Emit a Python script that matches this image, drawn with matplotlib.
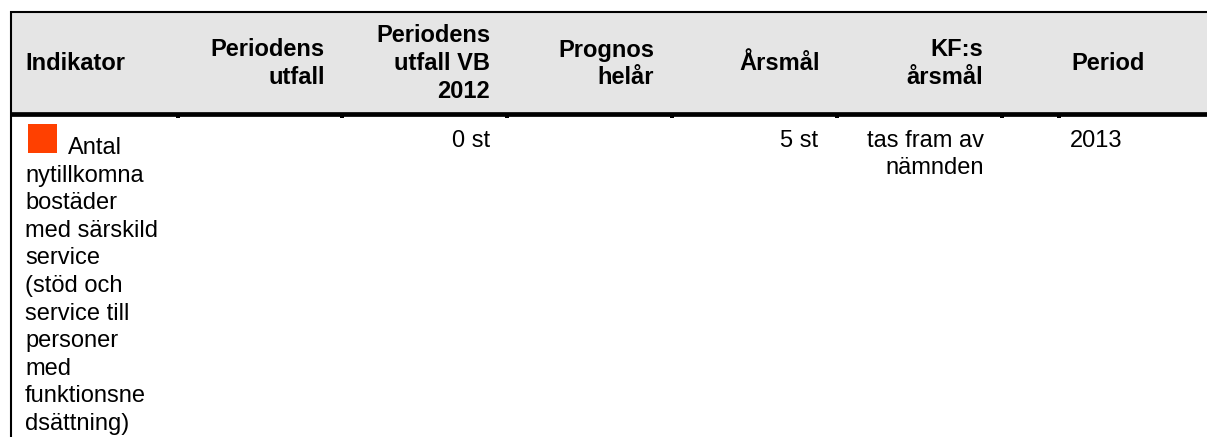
import matplotlib
matplotlib.use("Agg")
import matplotlib.pyplot as plt
from matplotlib.patches import Rectangle

# ---- data ----
headers = ["Indikator", "Periodens\nutfall", "Periodens\nutfall VB\n2012",
           "Prognos\nhelår", "Årsmål", "KF:s\nårsmål", "Period"]
indicator_lines = ["Antal", "nytillkomna", "bostäder", "med särskild", "service",
                   "(stöd och", "service till", "personer", "med",
                   "funktionsne", "dsättning)"]
row_values = ["", "0 st", "", "5 st", "tas fram av\nnämnden", "2013"]
status_color = "#ff4000"

# ---- layout (pixel coordinates) ----
W, H = 1207, 437
fig = plt.figure(figsize=(W / 100, H / 100), dpi=100)
ax = fig.add_axes([0, 0, 1, 1])
ax.set_xlim(0, W)
ax.set_ylim(H, 0)
ax.axis("off")

FONT = "Liberation Sans"
FS = 17
header_x = [25, 325, 490, 654, 820, 983, 1071]
header_ha = ["left", "right", "right", "right", "right", "right", "left"]
value_x = [325, 490, 654, 818, 984, 1070]
value_ha = ["right", "right", "right", "right", "right", "left"]
col_ticks = [178, 342, 507, 672, 837, 1002, 1059]

# header background
ax.add_patch(Rectangle((10, 12), W - 10, 100, facecolor="#e5e5e5", edgecolor="none", zorder=0))
# borders
ax.plot([10, W], [11.8, 11.8], color="black", lw=1.5, solid_capstyle="butt")
ax.plot([10, W], [114.3, 114.3], color="black", lw=3.4, solid_capstyle="butt")
ax.plot([10.8, 10.8], [11, H], color="black", lw=1.5, solid_capstyle="butt")
for x in col_ticks:
    ax.add_patch(Rectangle((x - 2, 116), 4, 2.2, facecolor="black", edgecolor="none"))

# header text
pitch_h = 28
for txt, x, ha in zip(headers, header_x, header_ha):
    lines = txt.split("\n")
    n = len(lines)
    for i, ln in enumerate(lines):
        y = 70.5 + (i - (n - 1) / 2) * pitch_h
        ax.text(x, y, ln, ha=ha, va="baseline", fontsize=FS, fontweight="bold",
                family=FONT, color="black")

# indicator cell
ax.add_patch(Rectangle((28, 124), 29, 29, facecolor=status_color, edgecolor="none"))
pitch_b = 27.6
for i, ln in enumerate(indicator_lines):
    x = 68 if i == 0 else 25
    ax.text(x, 154 + i * pitch_b, ln, ha="left", va="baseline", fontsize=FS,
            family=FONT, color="black")

# other cells
for txt, x, ha in zip(row_values, value_x, value_ha):
    for i, ln in enumerate(txt.split("\n")):
        if ln:
            ax.text(x, 146.7 + i * pitch_b, ln, ha=ha, va="baseline", fontsize=FS,
                    family=FONT, color="black")

fig.savefig("out.png", dpi=100)
